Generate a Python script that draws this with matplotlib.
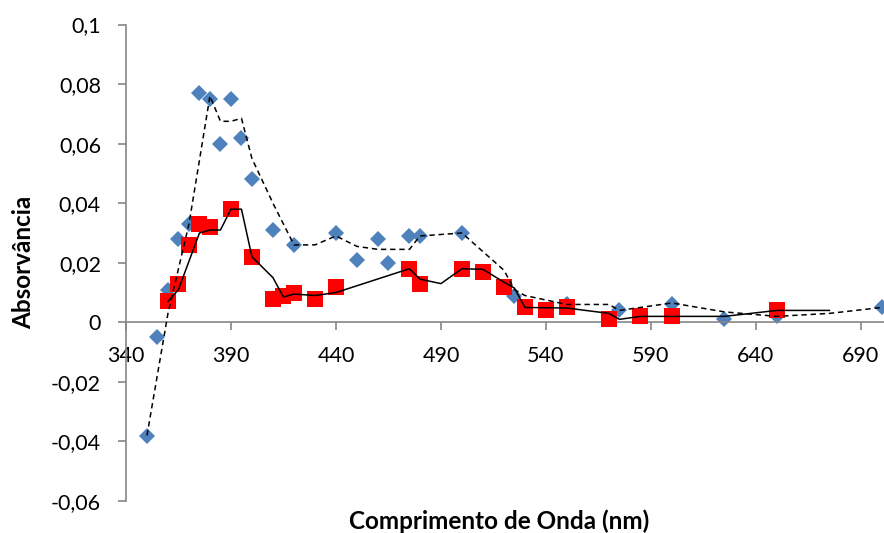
import matplotlib.pyplot as plt
from matplotlib.ticker import FuncFormatter

plt.rcParams['font.family'] = ['Lato', 'DejaVu Sans']

# measured points (blue diamonds)
wl_a = [350, 355, 360, 365, 370, 375, 380, 385, 390, 395, 400, 410, 420, 440,
        450, 460, 465, 475, 480, 500, 525, 550, 575, 600, 625, 650, 700]
abs_a = [-0.038, -0.005, 0.011, 0.028, 0.033, 0.077, 0.075, 0.060, 0.075, 0.062,
         0.048, 0.031, 0.026, 0.030, 0.021, 0.028, 0.020, 0.029, 0.029, 0.030,
         0.009, 0.006, 0.004, 0.006, 0.001, 0.002, 0.005]

# measured points (red squares)
wl_b = [360, 365, 370, 375, 380, 390, 400, 410, 415, 420, 430, 440, 475, 480,
        500, 510, 520, 530, 540, 550, 570, 585, 600, 650]
abs_b = [0.007, 0.013, 0.026, 0.033, 0.032, 0.038, 0.022, 0.008, 0.009, 0.010,
         0.008, 0.012, 0.018, 0.013, 0.018, 0.017, 0.012, 0.005, 0.004, 0.005,
         0.001, 0.002, 0.002, 0.004]

# reference curve (dashed)
wl_c = [350, 360, 370, 380, 385, 390, 395, 400, 410, 420, 430, 440, 450, 460,
        475, 480, 500, 520, 525, 530, 550, 570, 575, 600, 625, 650, 675, 700]
abs_c = [-0.038, 0.003, 0.033, 0.076, 0.0675, 0.0675, 0.0685, 0.055, 0.040,
         0.026, 0.026, 0.029, 0.0255, 0.0245, 0.0245, 0.029, 0.030, 0.0175,
         0.011, 0.009, 0.006, 0.006, 0.004, 0.0065, 0.0035, 0.002, 0.003, 0.005]

# reference curve (solid)
wl_d = [360, 365, 375, 380, 385, 390, 395, 400, 410, 415, 420, 430, 440, 475,
        480, 490, 500, 510, 520, 525, 530, 550, 570, 575, 585, 625, 650, 675]
abs_d = [0.007, 0.011, 0.030, 0.031, 0.031, 0.038, 0.038, 0.022, 0.015, 0.0085,
         0.0095, 0.009, 0.010, 0.018, 0.0145, 0.013, 0.018, 0.0178, 0.0135,
         0.0115, 0.005, 0.0048, 0.003, 0.001, 0.002, 0.002, 0.004, 0.004]

x_ticks = [340, 390, 440, 490, 540, 590, 640, 690]
y_ticks = [-0.06, -0.04, -0.02, 0, 0.02, 0.04, 0.06, 0.08, 0.1]

fig = plt.figure(figsize=(8.84, 5.33), dpi=100)
ax = fig.add_axes([0.1425, 0.060, 0.8575, 0.894])

ax.plot(wl_a, abs_a, linestyle='none', marker='D', markersize=8.2,
        color='#4F81BD', markeredgewidth=0, zorder=2)
ax.plot(wl_b, abs_b, linestyle='none', marker='s', markersize=11,
        color='#FF0000', markeredgewidth=0, zorder=3)
ax.plot(wl_c, abs_c, color='black', linewidth=1.1, linestyle=(0, (3.5, 2.5)), zorder=4)
ax.plot(wl_d, abs_d, color='black', linewidth=1.1, zorder=5)

ax.set_xlim(340, 701)
ax.set_ylim(-0.06, 0.1)
ax.set_xticks(x_ticks)
ax.set_yticks(y_ticks)

def comma(v, pos):
    s = f"{v:.2f}".rstrip('0').rstrip('.')
    if s in ('-0', '0.0'):
        s = '0'
    return s.replace('.', ',')

ax.yaxis.set_major_formatter(FuncFormatter(comma))

for side in ('top', 'right'):
    ax.spines[side].set_visible(False)
ax.spines['bottom'].set_position(('data', 0))
for side in ('left', 'bottom'):
    ax.spines[side].set_color('#868686')
    ax.spines[side].set_linewidth(1.2)

ax.tick_params(axis='both', direction='out', length=6, width=1.2,
               color='#868686', labelsize=15.5, labelcolor='black')
ax.tick_params(axis='x', pad=11)
ax.tick_params(axis='y', pad=12)

fig.text(0.565, 0.022, 'Comprimento de Onda (nm)', ha='center', va='center',
         fontsize=17.5, fontweight='bold')
fig.text(0.027, 0.508, 'Absorvância', ha='center', va='center', rotation=90,
         fontsize=17.5, fontweight='bold')

fig.savefig('out.png', dpi=100)
